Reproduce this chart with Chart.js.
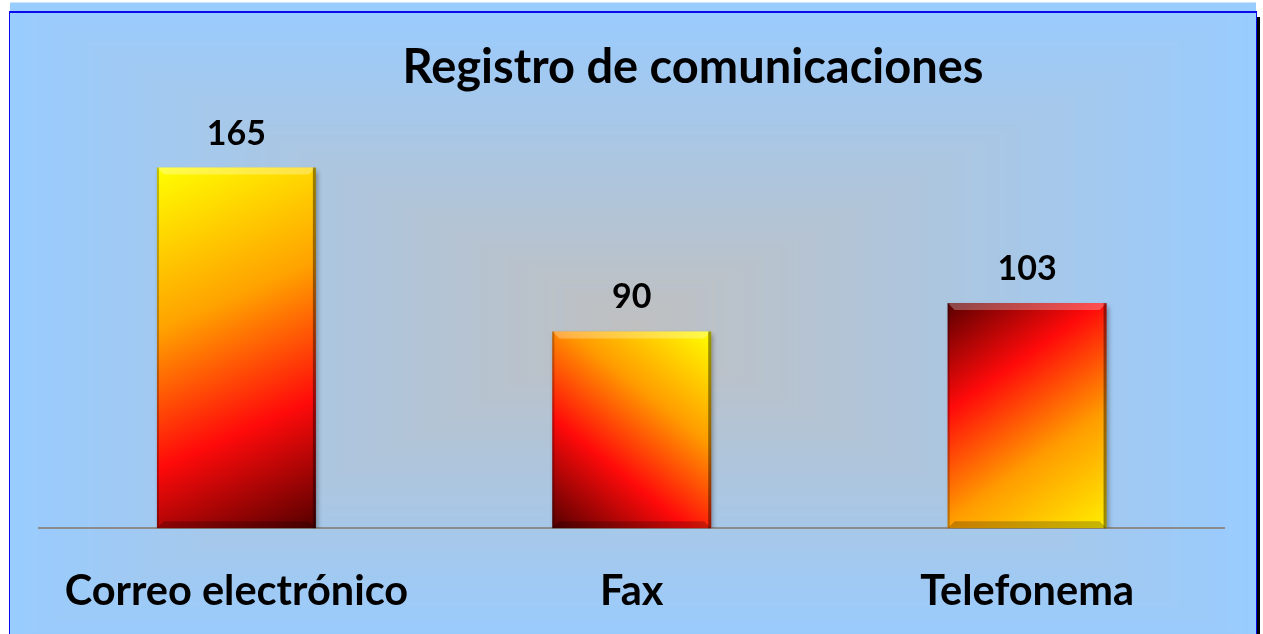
<!DOCTYPE html>
<html>
<head>
<meta charset="utf-8">
<script src="https://cdn.jsdelivr.net/npm/chart.js@4.4.1/dist/chart.umd.min.js"></script>
<style>
    html, body { margin: 0; padding: 0; background: #fff; overflow: hidden; }
    #contenedor { width: 1263px; height: 655px; position: relative; }
</style>
</head>
<body>
<div id="contenedor"><canvas id="miGrafica"></canvas></div>
<script>
const titulo = "Registro de comunicaciones";
const categorias = ["Correo electrónico", "Fax", "Telefonema"];
const valores = [165, 90, 103];
const ejeMaximo = 200;

// sentido del degradado de cada barra (estilo, no datos)
const sentidos = ["arribaIzq", "arribaDer", "abajoDer"];
const FUENTE = "Lato";
const ANCHO_BARRA = 0.402;

function degradadoBarra(context) {
    const chart = context.chart;
    const area = chart.chartArea;
    if (!area || context.type !== "data") return "#ff6600";
    const i = context.dataIndex;
    const x = chart.scales.x.getPixelForValue(i);
    const ancho = (area.right - area.left) / categorias.length * ANCHO_BARRA;
    const izq = x - ancho / 2, der = x + ancho / 2;
    const arriba = chart.scales.y.getPixelForValue(valores[i]);
    const abajo = chart.scales.y.getPixelForValue(0);
    const c = chart.ctx;
    let g;
    const sentido = sentidos[i];
    if (sentido === "arribaIzq") {
        g = c.createLinearGradient(izq, arriba, der, abajo);
        g.addColorStop(0, "#ffff00");
        g.addColorStop(0.38, "#ffa200");
        g.addColorStop(0.70, "#ff0a0a");
        g.addColorStop(1, "#550000");
    } else if (sentido === "arribaDer") {
        g = c.createLinearGradient(der, arriba, izq, abajo);
        g.addColorStop(0, "#ffff00");
        g.addColorStop(0.35, "#ff9c00");
        g.addColorStop(0.66, "#ff0a0a");
        g.addColorStop(1, "#550000");
    } else {
        g = c.createLinearGradient(der, abajo, izq, arriba);
        g.addColorStop(0, "#ffee00");
        g.addColorStop(0.35, "#ff9c00");
        g.addColorStop(0.68, "#ff0a0a");
        g.addColorStop(1, "#5a0000");
    }
    return g;
}

function mezcla(a, b, t) {
    return "rgb(" + a.map((v, k) => Math.round(v + (b[k] - v) * t)).join(",") + ")";
}

const fondo = {
    id: "fondo",
    beforeDraw(chart) {
        const ctx = chart.ctx;
        const w = chart.width, h = chart.height;
        ctx.save();
        ctx.fillStyle = "#ffffff";
        ctx.fillRect(0, 0, w, h);
        // degradado rectangular desde el centro del marco
        const x0 = 10, y0 = 13, x1 = 1256, y1 = 634;
        const cx = (x0 + x1) / 2, cy = (y0 + y1) / 2;
        const hw = (x1 - x0) / 2, hh = (h - y0) / 2;
        const borde = [153, 204, 255], centro = [192, 192, 192];
        const pasos = 90;
        ctx.fillStyle = mezcla(borde, centro, 0);
        ctx.fillRect(x0, y0, x1 - x0, h - y0);
        for (let k = 0; k < pasos; k++) {
            const t = k / pasos;
            ctx.fillStyle = mezcla(borde, centro, t);
            ctx.fillRect(cx - hw * (1 - t), cy - hh * (1 - t), 2 * hw * (1 - t), 2 * hh * (1 - t));
        }
        // marco
        ctx.fillStyle = "#0a0aee";
        ctx.fillRect(9, 11, 1248, 2);
        ctx.fillRect(9, 11, 1, h);
        ctx.fillRect(1256, 11, 1, h);
        ctx.fillStyle = "#000000";
        ctx.fillRect(1257, 17, 3, h);
        ctx.restore();
    }
};

const relieve = {
    id: "relieve",
    beforeDatasetsDraw(chart) {
        const ctx = chart.ctx;
        ctx.save();
        ctx.shadowColor = "rgba(0,0,0,0.35)";
        ctx.shadowBlur = 5;
        ctx.shadowOffsetX = 2;
        ctx.shadowOffsetY = 3;
    },
    afterDatasetsDraw(chart) {
        const ctx = chart.ctx;
        ctx.restore();
        ctx.save();
        const meta = chart.getDatasetMeta(0);
        meta.data.forEach((barra, i) => {
            const { x, y, base, width } = barra.getProps(["x", "y", "base", "width"], true);
            const l = x - width / 2, r = x + width / 2;
            const b = 7;
            // brillo superior
            ctx.fillStyle = "rgba(255,255,255,0.28)";
            ctx.beginPath();
            ctx.moveTo(l, y); ctx.lineTo(r, y); ctx.lineTo(r - b, y + b); ctx.lineTo(l + b, y + b);
            ctx.closePath(); ctx.fill();
            // sombra inferior
            ctx.fillStyle = "rgba(0,0,0,0.22)";
            ctx.beginPath();
            ctx.moveTo(l, base); ctx.lineTo(r, base); ctx.lineTo(r - b, base - b); ctx.lineTo(l + b, base - b);
            ctx.closePath(); ctx.fill();
            // bordes laterales
            ctx.fillStyle = "rgba(0,0,0,0.25)";
            ctx.fillRect(l, y, 2, base - y);
            ctx.fillStyle = "rgba(0,0,0,0.4)";
            ctx.fillRect(r - 3, y, 3, base - y);
            // etiqueta de valor
            ctx.fillStyle = "#000000";
            ctx.font = "bold 34px " + FUENTE;
            ctx.textAlign = "center";
            ctx.textBaseline = "alphabetic";
            ctx.fillText(String(valores[i]), x, y - 23);
        });
        // titulo
        ctx.font = "bold 47px " + FUENTE;
        ctx.textAlign = "center";
        ctx.textBaseline = "alphabetic";
        ctx.fillStyle = "#000000";
        ctx.fillText(titulo, 693, 83);
        ctx.restore();
    }
};

function crearGrafica() {
    const ctx = document.getElementById("miGrafica").getContext("2d");
    new Chart(ctx, {
        type: "bar",
        data: {
            labels: categorias,
            datasets: [{
                label: titulo,
                data: valores,
                backgroundColor: degradadoBarra,
                borderWidth: 0,
                categoryPercentage: 1,
                barPercentage: ANCHO_BARRA
            }]
        },
        options: {
            responsive: true,
            maintainAspectRatio: false,
            animation: false,
            layout: {
                padding: { top: 91, left: 38.75, right: 38.25, bottom: 0 }
            },
            plugins: {
                legend: { display: false },
                title: { display: false },
                tooltip: { enabled: false }
            },
            scales: {
                x: {
                    grid: { display: false, drawTicks: false },
                    border: { display: true, color: "#8c8c8c", width: 2 },
                    ticks: {
                        color: "#000000",
                        padding: 38.5,
                        font: { family: FUENTE, size: 41.5, weight: "bold" }
                    }
                },
                y: {
                    display: false,
                    min: 0,
                    max: ejeMaximo
                }
            }
        },
        plugins: [fondo, relieve]
    });
}

document.addEventListener("DOMContentLoaded", () => {
    crearGrafica();
});
</script>
</body>
</html>
